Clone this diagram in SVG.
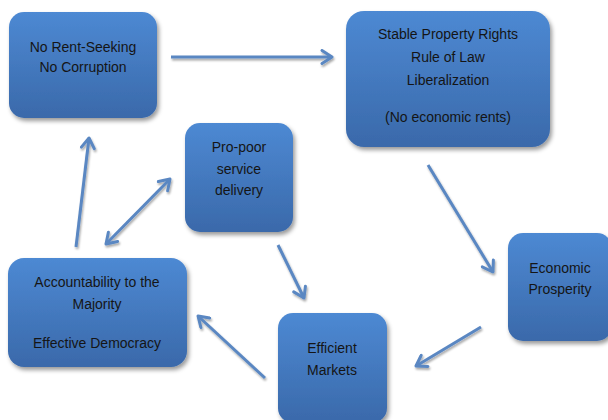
<svg xmlns="http://www.w3.org/2000/svg" width="608" height="420" viewBox="0 0 608 420">
<style>
.box{fill:url(#g);stroke:none;filter:url(#bs)}
.t{font-family:"Liberation Sans",Arial,sans-serif;font-size:14px;fill:#151515;text-anchor:middle}
.c{fill:none;stroke:#5a87c2;stroke-width:3;marker-end:url(#ah)}
.d{marker-start:url(#ah)}
</style>
<defs>
<linearGradient id="g" x1="0" y1="0" x2="0" y2="1">
<stop offset="0" stop-color="#4d89d3"/>
<stop offset="1" stop-color="#3a69aa"/>
</linearGradient>
<filter id="bs" x="-20%" y="-20%" width="140%" height="140%">
<feDropShadow dx="2" dy="3" stdDeviation="2" flood-color="#000" flood-opacity="0.4"/>
</filter>
<filter id="as" x="-20%" y="-20%" width="140%" height="140%">
<feDropShadow dx="1" dy="2" stdDeviation="1" flood-color="#000" flood-opacity="0.35"/>
</filter>
<marker id="ah" viewBox="0 0 14 16" refX="12" refY="8" markerWidth="14" markerHeight="16" markerUnits="userSpaceOnUse" orient="auto-start-reverse">
<path d="M2,1.5 L12,8 L2,14.5" fill="none" stroke="#5a87c2" stroke-width="3" stroke-linecap="round" stroke-linejoin="round"/>
</marker>
</defs>
<rect width="608" height="420" fill="#fff"/>
<g id="connectors" filter="url(#as)">
<line class="c" x1="171" y1="57" x2="332" y2="57"/>
<line class="c" x1="428" y1="165" x2="493" y2="272"/>
<line class="c" x1="481" y1="327" x2="416" y2="366"/>
<line class="c" x1="265" y1="378" x2="198" y2="316"/>
<line class="c" x1="76" y1="247" x2="89" y2="138"/>
<line class="c d" x1="106" y1="244" x2="170" y2="179"/>
<line class="c" x1="278" y1="245" x2="304" y2="298"/>
</g>
<g id="n-norent">
<rect class="box" x="9" y="12" width="148" height="106" rx="15"/>
<text class="t" x="83" y="52">No Rent-Seeking</text>
<text class="t" x="83" y="72">No Corruption</text>
</g>
<g id="n-stable">
<rect class="box" x="346" y="11" width="204" height="136" rx="18"/>
<text class="t" x="448" y="39">Stable Property Rights</text>
<text class="t" x="448" y="62">Rule of Law</text>
<text class="t" x="448" y="85">Liberalization</text>
<text class="t" x="448" y="122">(No economic rents)</text>
</g>
<g id="n-propoor">
<rect class="box" x="185" y="123" width="108" height="109" rx="15"/>
<text class="t" x="239" y="152">Pro-poor</text>
<text class="t" x="239" y="174">service</text>
<text class="t" x="239" y="195">delivery</text>
</g>
<g id="n-account">
<rect class="box" x="8" y="258" width="179" height="109" rx="16"/>
<text class="t" x="97" y="287">Accountability to the</text>
<text class="t" x="97" y="309">Majority</text>
<text class="t" x="97" y="348">Effective Democracy</text>
</g>
<g id="n-econ">
<rect class="box" x="508" y="233" width="104" height="108" rx="15"/>
<text class="t" x="560" y="273">Economic</text>
<text class="t" x="560" y="294">Prosperity</text>
</g>
<g id="n-efficient">
<rect class="box" x="278" y="313" width="109" height="110" rx="15"/>
<text class="t" x="332" y="353">Efficient</text>
<text class="t" x="332" y="375">Markets</text>
</g>
</svg>
